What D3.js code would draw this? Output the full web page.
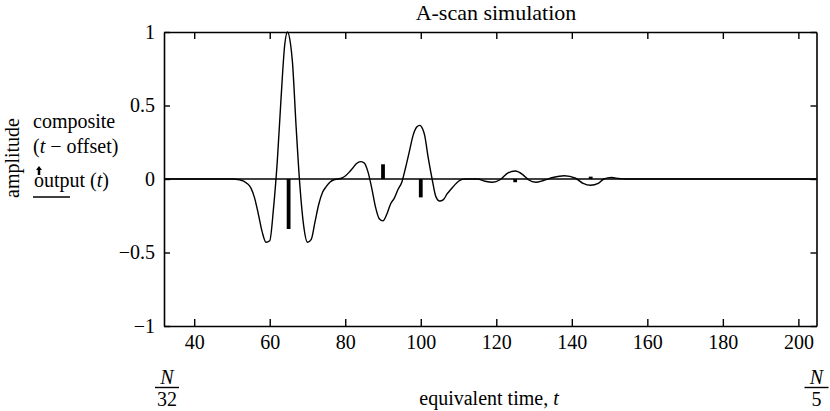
<!DOCTYPE html>
<html>
<head>
<meta charset="utf-8">
<script src="https://cdn.jsdelivr.net/npm/d3@7"></script>
<style>
  body { margin: 0; background: #fff; }
</style>
</head>
<body>
<svg id="chart" width="830" height="411"></svg>
<script>
// composite(t - offset)
const compT = [32, 50, 52, 54, 55, 56, 57, 58, 59, 60, 61, 62, 63, 64, 64.7, 65.5, 66, 67, 68, 69, 70, 71, 72, 73, 74, 75, 76, 77, 78, 79, 80, 81, 82, 83, 84, 85, 86, 87, 88, 89, 90, 91, 92, 93, 94, 95, 96, 97, 98, 99, 99.7, 100.5, 101, 102, 103, 104, 105, 106, 107, 108, 109, 110, 111, 112, 115, 117, 119, 121, 123, 125, 127, 128.5, 130.5, 132.5, 135, 138, 141, 143, 145, 147, 148.5, 150.5, 152.5, 154, 204.8];
const compAmp = [0, 0, -0.005, -0.03, -0.06, -0.13, -0.24, -0.36, -0.43, -0.42, -0.2, 0.12, 0.55, 0.92, 1.0, 0.92, 0.8, 0.35, -0.05, -0.32, -0.43, -0.41, -0.29, -0.17, -0.09, -0.05, -0.02, -0.005, 0, 0.005, 0.02, 0.045, 0.075, 0.105, 0.118, 0.11, 0.05, -0.06, -0.19, -0.27, -0.285, -0.24, -0.17, -0.13, -0.07, -0.02, 0.08, 0.19, 0.3, 0.355, 0.365, 0.34, 0.3, 0.14, 0, -0.12, -0.15, -0.14, -0.1, -0.07, -0.04, -0.015, -0.003, 0, 0, -0.015, -0.022, -0.005, 0.04, 0.054, 0.03, -0.005, -0.022, -0.01, 0.01, 0.022, 0.005, -0.03, -0.043, -0.03, 0, 0.01, 0.003, 0, 0];
// output(t) sticks
const stemT = [65, 90, 100, 125, 145];
const stemAmp = [-0.34, 0.10, -0.125, -0.022, 0.016];

const xTicks = [40, 60, 80, 100, 120, 140, 160, 180, 200];
const yTicks = [-1, -0.5, 0, 0.5, 1];
const yTickLabels = ["\u22121", "\u22120.5", "0", "0.5", "1"];

const FONT = "'Liberation Serif', 'DejaVu Serif', serif";

const svg = d3.select("#chart");
const pLeft = 164, pRight = 816.5, pTop = 32, pBottom = 326;

const x = d3.scaleLinear().domain([32, 204.8]).range([pLeft, pRight]);
const y = d3.scaleLinear().domain([-1, 1]).range([pBottom, pTop]);

// axes, ticks pointing inward
svg.append("g")
  .attr("transform", "translate(0," + pBottom + ")")
  .call(d3.axisBottom(x).tickValues(xTicks).tickSize(-7).tickPadding(9).tickSizeOuter(0));
svg.append("g")
  .attr("transform", "translate(0," + pTop + ")")
  .call(d3.axisTop(x).tickValues(xTicks).tickSize(-7).tickFormat("").tickSizeOuter(0));
svg.append("g")
  .attr("transform", "translate(" + pLeft + ",0)")
  .call(d3.axisLeft(y).tickValues(yTicks).tickSize(-6).tickPadding(9).tickSizeOuter(0)
    .tickFormat((d, i) => yTickLabels[i]));
svg.append("g")
  .attr("transform", "translate(" + pRight + ",0)")
  .call(d3.axisRight(y).tickValues(yTicks).tickSize(-6).tickFormat("").tickSizeOuter(0));

svg.selectAll(".domain").attr("stroke", "#000").attr("stroke-width", 1.6);
svg.selectAll(".tick line").attr("stroke", "#000").attr("stroke-width", 1.4);
svg.selectAll(".tick text").attr("fill", "#000");

// zero line
svg.append("line")
  .attr("x1", pLeft).attr("x2", pRight)
  .attr("y1", y(0)).attr("y2", y(0))
  .attr("stroke", "#000").attr("stroke-width", 1.6);

// sticks
svg.selectAll(".stem")
  .data(stemT)
  .enter().append("line")
  .attr("class", "stem")
  .attr("x1", d => x(d)).attr("x2", d => x(d))
  .attr("y1", y(0))
  .attr("y2", (d, i) => y(stemAmp[i]))
  .attr("stroke", "#000").attr("stroke-width", 3.8);

// composite curve
const line = d3.line()
  .x((d, i) => x(compT[i]))
  .y(d => y(d))
  .curve(d3.curveMonotoneX);
svg.append("path")
  .datum(compAmp)
  .attr("d", line)
  .attr("fill", "none")
  .attr("stroke", "#000")
  .attr("stroke-width", 1.4);

// title
svg.append("text")
  .attr("x", 496).attr("y", 20)
  .attr("text-anchor", "middle")
  .style("font-size", "22px")
  .text("A-scan simulation");

// y label + legend
svg.append("text")
  .attr("transform", "translate(19,158) rotate(-90)")
  .attr("text-anchor", "middle")
  .style("font-size", "20px")
  .text("amplitude");

const leg = svg.append("g").style("font-size", "20px");
leg.append("text").attr("x", 33).attr("y", 128).text("composite");
const l2 = leg.append("text").attr("x", 33).attr("y", 153);
l2.append("tspan").text("(");
l2.append("tspan").style("font-style", "italic").text("t");
l2.append("tspan").text(" \u2212 offset)");
const l3 = leg.append("text").attr("x", 34).attr("y", 187);
l3.append("tspan").text("output (");
l3.append("tspan").style("font-style", "italic").text("t");
l3.append("tspan").text(")");
svg.append("line")
  .attr("x1", 39).attr("x2", 39).attr("y1", 175).attr("y2", 168)
  .attr("stroke", "#000").attr("stroke-width", 2.5);
svg.append("path")
  .attr("d", "M36,170 L39,166 L42,170 Z")
  .attr("fill", "#000");
svg.append("line")
  .attr("x1", 33).attr("x2", 70).attr("y1", 197).attr("y2", 197)
  .attr("stroke", "#000").attr("stroke-width", 1.6);

// x axis label
const xl = svg.append("text")
  .attr("x", 489).attr("y", 405)
  .attr("text-anchor", "middle")
  .style("font-size", "20px");
xl.append("tspan").text("equivalent time, ");
xl.append("tspan").style("font-style", "italic").text("t");

// N/32 and N/5 fractions under the axis ends
const fracs = [{ t: 32, den: "32" }, { t: 204.8, den: "5" }];
fracs.forEach(f => {
  const cx = x(f.t) + (f.t === 32 ? 3 : 0);
  svg.append("text").attr("x", cx).attr("y", 384)
    .attr("text-anchor", "middle").style("font-size", "20px").style("font-style", "italic").text("N");
  svg.append("line").attr("x1", cx - 12).attr("x2", cx + 12).attr("y1", 387.5).attr("y2", 387.5)
    .attr("stroke", "#000").attr("stroke-width", 1.4);
  svg.append("text").attr("x", cx).attr("y", 406)
    .attr("text-anchor", "middle").style("font-size", "20px").text(f.den);
});

// every label in the serif face
svg.selectAll("text")
  .style("font-family", FONT)
  .style("font-size", function () { return this.style.fontSize || "20px"; });
</script>
</body>
</html>
